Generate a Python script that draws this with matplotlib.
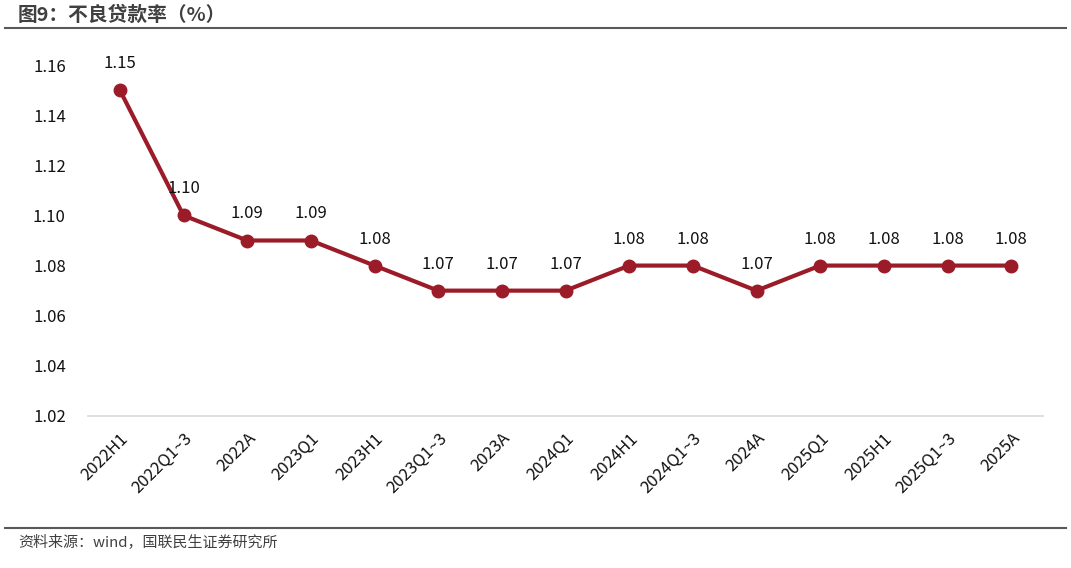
import matplotlib
matplotlib.use("Agg")
import matplotlib.pyplot as plt
from matplotlib.lines import Line2D

plt.rcParams['font.family'] = ['Noto Sans CJK SC', 'DejaVu Sans']

categories = ["2022H1", "2022Q1~3", "2022A", "2023Q1", "2023H1", "2023Q1~3", "2023A",
              "2024Q1", "2024H1", "2024Q1~3", "2024A", "2025Q1", "2025H1", "2025Q1~3", "2025A"]
npl_ratio = [1.15, 1.10, 1.09, 1.09, 1.08, 1.07, 1.07, 1.07, 1.08, 1.08, 1.07, 1.08, 1.08, 1.08, 1.08]
yticks = [1.02, 1.04, 1.06, 1.08, 1.10, 1.12, 1.14, 1.16]

W, H = 1071, 568
fig = plt.figure(figsize=(W/100, H/100), dpi=100)
ax = fig.add_axes([88/W, 1 - 416/H, (1043-88)/W, (416-65)/H])

color = "#9B1C28"
x = list(range(len(categories)))
ax.plot(x, npl_ratio, color=color, lw=3, marker='o', ms=9, zorder=3, clip_on=False)
for xi, v in zip(x, npl_ratio):
    ax.annotate(f"{v:.2f}", (xi, v), xytext=(0, 13), textcoords='offset points',
                ha='center', va='bottom', fontsize=12, color='#111111')

ax.set_xlim(-0.5, len(categories) - 0.5)
ax.set_ylim(1.02, 1.16)
ax.set_yticks(yticks)
ax.set_yticklabels([f"{t:.2f}" for t in yticks], fontsize=12, color='#111111')
ax.set_xticks(x)
ax.set_xticklabels(categories, rotation=45, ha='right', rotation_mode='anchor',
                   fontsize=12, color='#111111')
ax.tick_params(axis='both', length=0)
ax.tick_params(axis='y', pad=16)
ax.tick_params(axis='x', pad=10)
for s in ['top', 'right', 'left']:
    ax.spines[s].set_visible(False)
ax.spines['bottom'].set_color('#d9d9d9')
ax.spines['bottom'].set_linewidth(1.2)

fig.text(18/W, 1 - 15/H, "图9：不良贷款率（%）", fontsize=14.2, fontweight='bold',
         color='#404040', ha='left', va='center')
fig.add_artist(Line2D([5/W, 1066/W], [1 - 28/H, 1 - 28/H], color='#595959', lw=1.5))
fig.add_artist(Line2D([5/W, 1066/W], [1 - 528/H, 1 - 528/H], color='#595959', lw=1.5))
fig.text(18/W, 1 - 543/H, "资料来源：wind，国联民生证券研究所", fontsize=10.8,
         color='#404040', ha='left', va='center')

fig.savefig("out.png", dpi=100)
